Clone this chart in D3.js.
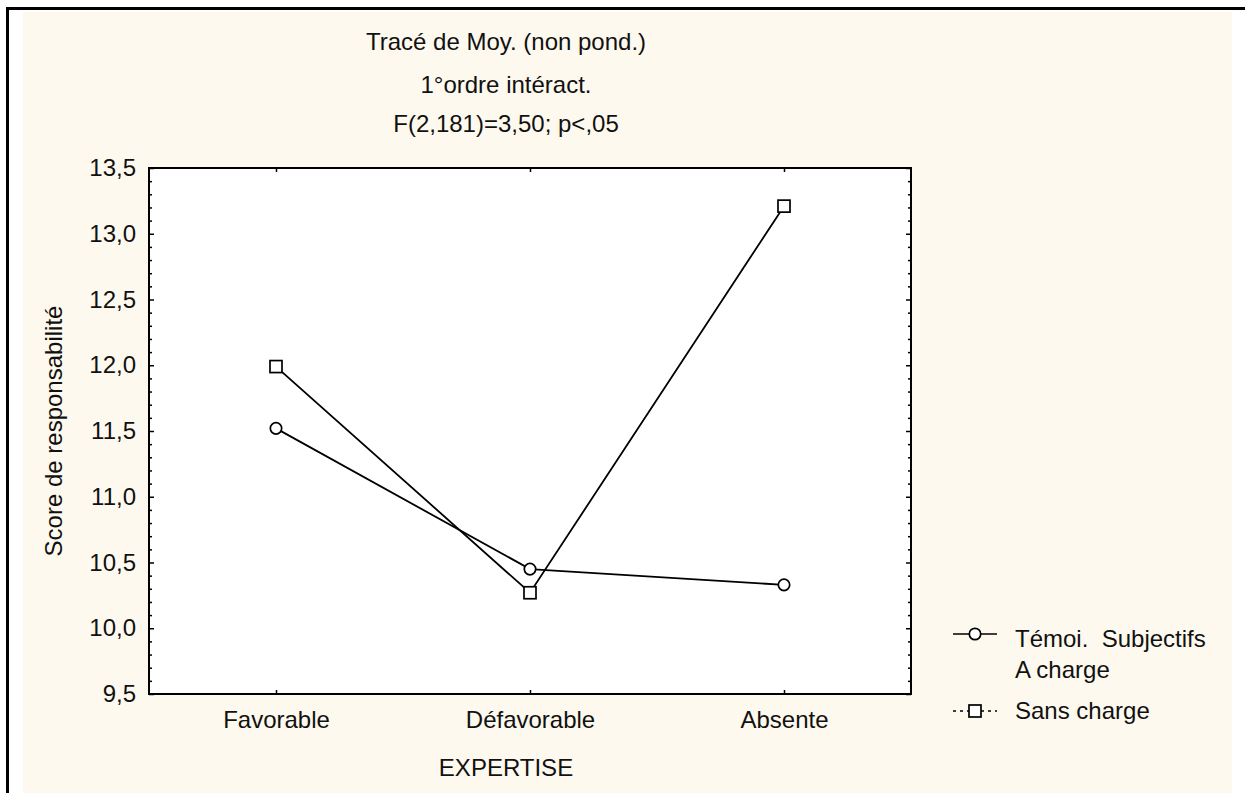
<!DOCTYPE html>
<html>
<head>
<meta charset="utf-8">
<script src="https://cdn.jsdelivr.net/npm/d3@7"></script>
<style>
  body { margin: 0; background: #fff; }
  text { font-family: Arial, "Liberation Sans", sans-serif; fill: #111; }
</style>
</head>
<body>
<svg></svg>
<script>
// Plot of unweighted means, EXPERTISE x témoins

// --- data ---
var categories = ["Favorable", "Défavorable", "Absente"]
var seriesNames = ["Témoi.  Subjectifs|A charge", "Sans charge"]
var chargeValues = [11.52, 10.45, 10.33]     // circles
var sansChargeValues = [11.99, 10.27, 13.21] // squares
var yTicks = [9.5, 10.0, 10.5, 11.0, 11.5, 12.0, 12.5, 13.0, 13.5]
var titleLines = ["Tracé de Moy. (non pond.)", "1°ordre intéract.", "F(2,181)=3,50; p<,05"]

var canvasSize = {width: 1245, height: 793}
var plot = {left: 149, top: 168, right: 911, bottom: 694}
var fontSize = 24

var svg = d3.select("svg")
    .attr("width", canvasSize.width)
    .attr("height", canvasSize.height)

// outer box and cream panel
svg.append("rect")
    .attr("x", 23).attr("y", 12)
    .attr("width", 1209).attr("height", 790)
    .attr("fill", "#fef9ee")
svg.append("rect")
    .attr("x", 7.5).attr("y", 8.5)
    .attr("width", 1300).attr("height", 900)
    .attr("fill", "none")
    .attr("stroke", "#000")
    .attr("stroke-width", 3)

// plot area
svg.append("rect")
    .attr("x", plot.left).attr("y", plot.top)
    .attr("width", plot.right - plot.left)
    .attr("height", plot.bottom - plot.top)
    .attr("fill", "#fff")

var x = d3.scalePoint()
    .domain(categories)
    .range([plot.left, plot.right])
    .padding(0.5)

var y = d3.scaleLinear()
    .domain([9.5, 13.5])
    .range([plot.bottom, plot.top])

var fmt = d => d3.format(".1f")(d).replace(".", ",")
var minor = d3.range(96, 135).map(v => v / 10).filter(v => Math.round(v * 10) % 5 != 0)

// left axis (major ticks with labels, minor ticks without)
var yAxisG = svg.append("g")
    .attr("transform", `translate(${plot.left},0)`)
    .call(d3.axisLeft(y).tickValues(yTicks).tickFormat(fmt).tickSize(-5).tickPadding(13))
yAxisG.select(".domain").remove()
yAxisG.selectAll("text").attr("font-size", fontSize).attr("font-family", null)
svg.append("g")
    .attr("transform", `translate(${plot.left},0)`)
    .call(d3.axisLeft(y).tickValues(minor).tickFormat("").tickSize(-3))
    .select(".domain").remove()

// right axis, ticks pointing inward
var rAxisG = svg.append("g")
    .attr("transform", `translate(${plot.right},0)`)
    .call(d3.axisRight(y).tickValues(yTicks).tickFormat("").tickSize(-5))
rAxisG.select(".domain").remove()
svg.append("g")
    .attr("transform", `translate(${plot.right},0)`)
    .call(d3.axisRight(y).tickValues(minor).tickFormat("").tickSize(-3))
    .select(".domain").remove()

// bottom and top axes
var xAxisG = svg.append("g")
    .attr("transform", `translate(0,${plot.bottom})`)
    .call(d3.axisBottom(x).tickSize(-4).tickPadding(17))
xAxisG.select(".domain").remove()
xAxisG.selectAll("text").attr("font-size", fontSize).attr("font-family", null)
svg.append("g")
    .attr("transform", `translate(0,${plot.top})`)
    .call(d3.axisTop(x).tickSize(-4).tickFormat(""))
    .select(".domain").remove()

svg.selectAll(".tick line").attr("stroke", "#000").attr("stroke-width", 1.5)

// frame
svg.append("rect")
    .attr("x", plot.left).attr("y", plot.top)
    .attr("width", plot.right - plot.left)
    .attr("height", plot.bottom - plot.top)
    .attr("fill", "none")
    .attr("stroke", "#000")
    .attr("stroke-width", 2)

// series lines
var line = d3.line()
    .x((d, i) => x(categories[i]))
    .y(d => y(d))

var series = [
    {name: seriesNames[0], values: chargeValues, marker: "circle"},
    {name: seriesNames[1], values: sansChargeValues, marker: "square"}
]

var view = svg.append("g")
series.forEach(s => {
    view.append("path")
        .attr("d", line(s.values))
        .attr("fill", "none")
        .attr("stroke", "#000")
        .attr("stroke-width", 1.8)
})

function drawMarker(g, type, cx, cy) {
    if (type == "circle") {
        g.append("circle")
            .attr("cx", cx).attr("cy", cy).attr("r", 5.7)
            .attr("fill", "#fff").attr("stroke", "#000").attr("stroke-width", 1.7)
    } else {
        g.append("rect")
            .attr("x", cx - 6).attr("y", cy - 6)
            .attr("width", 12).attr("height", 12)
            .attr("fill", "#fff").attr("stroke", "#000").attr("stroke-width", 1.7)
    }
}

series.forEach(s => {
    s.values.forEach((v, i) => drawMarker(view, s.marker, x(categories[i]), y(v)))
})

// titles
var titleG = svg.append("g")
var titleBaselines = [50, 93, 132]
titleLines.forEach((t, i) => {
    titleG.append("text")
        .attr("x", 506)
        .attr("y", titleBaselines[i])
        .attr("text-anchor", "middle")
        .attr("font-size", fontSize)
        .text(t)
})

// axis titles
svg.append("text")
    .attr("transform", `translate(62,${(plot.top + plot.bottom) / 2}) rotate(-90)`)
    .attr("text-anchor", "middle")
    .attr("font-size", fontSize)
    .text("Score de responsabilité")

svg.append("text")
    .attr("x", 506)
    .attr("y", 776)
    .attr("text-anchor", "middle")
    .attr("font-size", fontSize)
    .text("EXPERTISE")

// legend
var legend = svg.append("g")
var legendRows = [
    {y: 634, textY: [647, 678], dash: null},
    {y: 711, textY: [719], dash: "3,4"}
]
series.forEach((s, i) => {
    var row = legendRows[i]
    legend.append("line")
        .attr("x1", 953).attr("x2", 997)
        .attr("y1", row.y).attr("y2", row.y)
        .attr("stroke", "#000")
        .attr("stroke-width", 1.5)
        .attr("stroke-dasharray", row.dash)
    drawMarker(legend, s.marker, 975, row.y)
    s.name.split("|").forEach((t, j) => {
        legend.append("text")
            .attr("x", 1015)
            .attr("y", row.textY[j])
            .attr("font-size", fontSize)
            .style("white-space", "pre")
            .text(t)
    })
})
</script>
</body>
</html>
